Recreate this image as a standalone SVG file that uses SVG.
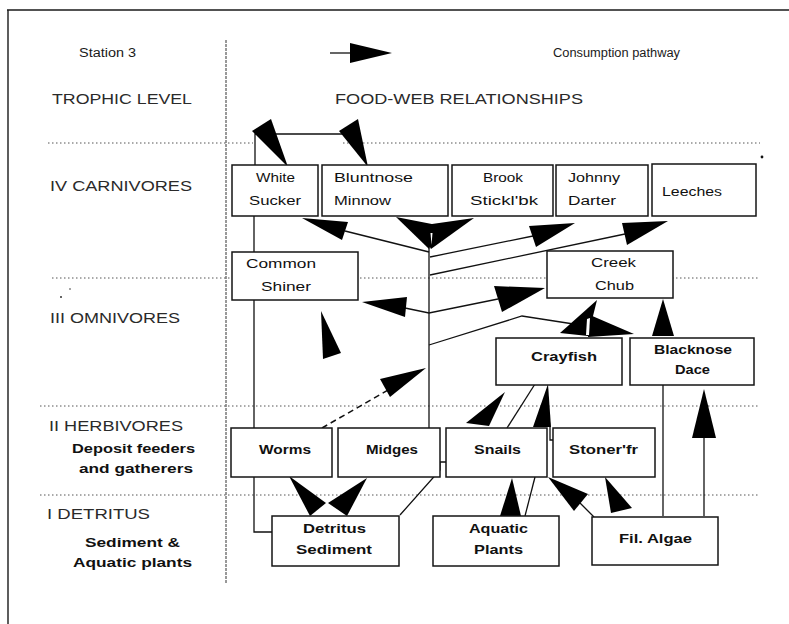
<svg xmlns="http://www.w3.org/2000/svg" width="789" height="624" viewBox="0 0 789 624">
  <style>
    .frame { fill: none; stroke: #1a1a1a; stroke-width: 1.4; }
    .divider { fill: none; stroke: #333; stroke-width: 1; stroke-dasharray: 3 1; }
    .level { fill: none; stroke: #555; stroke-width: 1; stroke-dasharray: 1.5 2.5; }
    .box { fill: #fff; stroke: #151515; stroke-width: 1.5; }
    .wire { fill: none; stroke: #111; stroke-width: 1.3; }
    .dash { fill: none; stroke: #111; stroke-width: 1.5; stroke-dasharray: 6 4; }
    .head { fill: #000; stroke: none; }
    .gap { fill: #fff; stroke: none; }
    .hd { font-family: "Liberation Sans", Arial, sans-serif; font-size: 15px; fill: #2a2a2a; }
    .sm { font-family: "Liberation Sans", Arial, sans-serif; font-size: 12px; fill: #1a1a1a; }
    .lb { font-family: "Liberation Sans", Arial, sans-serif; font-size: 12px; fill: #111; }
    .bl { font-family: "Liberation Sans", Arial, sans-serif; font-size: 12px; font-weight: bold; fill: #111; }
  </style>
  <rect width="789" height="624" fill="#fff"/>

  <!-- page frame and column divider -->
  <g id="frame">
    <path class="frame" d="M7,10 H789 M8,10 V624"/>
    <path class="divider" d="M226,40 V584"/>
    <circle cx="762" cy="157" r="1.4" fill="#111"/>
    <circle cx="61" cy="297" r="1" fill="#333"/>
    <circle cx="70" cy="289" r="0.8" fill="#333"/>
  </g>

  <!-- trophic level separators -->
  <g id="levels">
    <path class="level" d="M48,143 H253 M343,143 H760"/>
    <path class="level" d="M52,278 H760"/>
    <path class="level" d="M40,406 H760"/>
    <path class="level" d="M40,495 H760"/>
  </g>

  <!-- headings and level names -->
  <g id="labels">
    <text class="sm" x="79" y="57" textLength="57" lengthAdjust="spacingAndGlyphs">Station 3</text>
    <text class="sm" x="553" y="57" textLength="127" lengthAdjust="spacingAndGlyphs">Consumption pathway</text>
    <text class="hd" x="52" y="104" textLength="140" lengthAdjust="spacingAndGlyphs">TROPHIC LEVEL</text>
    <text class="hd" x="335" y="104" textLength="248" lengthAdjust="spacingAndGlyphs">FOOD-WEB RELATIONSHIPS</text>
    <text class="hd" x="50" y="191" textLength="142" lengthAdjust="spacingAndGlyphs">IV CARNIVORES</text>
    <text class="hd" x="50" y="323" textLength="130" lengthAdjust="spacingAndGlyphs">III OMNIVORES</text>
    <text class="hd" x="49" y="431" textLength="134" lengthAdjust="spacingAndGlyphs">II HERBIVORES</text>
    <text class="bl" x="72" y="453" textLength="123" lengthAdjust="spacingAndGlyphs">Deposit feeders</text>
    <text class="bl" x="79" y="473" textLength="114" lengthAdjust="spacingAndGlyphs">and gatherers</text>
    <text class="hd" x="47" y="519" textLength="103" lengthAdjust="spacingAndGlyphs">I DETRITUS</text>
    <text class="bl" x="85" y="547" textLength="95" lengthAdjust="spacingAndGlyphs">Sediment &amp;</text>
    <text class="bl" x="73" y="567" textLength="119" lengthAdjust="spacingAndGlyphs">Aquatic plants</text>
  </g>

  <!-- consumption pathways -->
  <g id="connectors">
    <!-- legend arrow -->
    <path class="wire" d="M330,53 H352"/>
    <polygon class="head" points="350,43 350,63 392,53"/>

    <!-- White Sucker / Bluntnose Minnow loop -->
    <path class="wire" d="M255,165 V134 H343"/>
    <polygon class="head" points="252,131 271,119 288,167"/>
    <polygon class="head" points="339,131 358,119 368,167"/>

    <!-- White Sucker down to detritus -->
    <path class="wire" d="M254,216 V532 H272"/>

    <!-- midges trunk and its branches -->
    <path class="wire" d="M429,248 V430"/>
    <path class="wire" d="M345,231 L429,252"/>
    <polygon class="head" points="302,218 348,222 342,240"/>
    <polygon class="head" points="396,217 442,226 429,249"/>
    <polygon class="head" points="474,218 418,226 431,249"/>
    <polygon class="gap" points="430.5,233 432.5,233 431.5,245"/>
    <path class="wire" d="M430,257 L533,236"/>
    <polygon class="head" points="575,223 529,226 536,247"/>
    <path class="wire" d="M430,275 L625,234"/>
    <polygon class="head" points="668,221 622,223 627,245"/>
    <path class="wire" d="M405,308 L429,313 L498,299"/>
    <polygon class="head" points="362,302 407,297 405,317"/>
    <polygon class="head" points="545,288 494,286 502,312"/>
    <path class="wire" d="M429,345 L522,316 L580,325"/>
    <polygon class="head" points="321,311 341,353 323,359"/>

    <!-- worms (dashed) -->
    <path class="dash" d="M322,428 L388,390"/>
    <polygon class="head" points="426,368 380,379 390,397"/>

    <!-- crayfish and blacknose dace to creek chub -->
    <polygon class="head" points="597,300 560,333 588,336"/>
    <polygon class="head" points="590,315 634,334 588,337"/>
    <polygon class="gap" points="587,319 590,318 589,335 586,335"/>
    <polygon class="head" points="663,299 652,336 674,336"/>

    <!-- snails / stoneflies to crayfish -->
    <path class="wire" d="M535,384 L507,428"/>
    <polygon class="head" points="505,392 466,423 489,426"/>
    <polygon class="head" points="548,384 533,427 551,427"/>
    <path class="wire" d="M550,427 V440 H553"/>

    <!-- detritus to worms and midges -->
    <polygon class="head" points="289,476 326,503 310,516"/>
    <polygon class="head" points="367,478 328,503 347,516"/>
    <path class="wire" d="M446,462 H440 V470 L400,515"/>

    <!-- plants and algae to grazers -->
    <path class="wire" d="M535,477 L525,516"/>
    <polygon class="head" points="512,478 500,516 521,516"/>
    <path class="wire" d="M580,503 L594,517"/>
    <polygon class="head" points="548,477 588,494 574,511"/>
    <polygon class="head" points="605,477 611,513 632,508"/>
    <path class="wire" d="M663,384 V516"/>
    <path class="wire" d="M704,438 V516"/>
    <polygon class="head" points="704,389 692,438 716,438"/>
  </g>

  <!-- IV carnivores -->
  <g id="white-sucker">
    <rect class="box" x="232" y="165" width="86" height="51"/>
    <text class="lb" x="256" y="182" textLength="39" lengthAdjust="spacingAndGlyphs">White</text>
    <text class="lb" x="249" y="205" textLength="52" lengthAdjust="spacingAndGlyphs">Sucker</text>
  </g>
  <g id="bluntnose-minnow">
    <rect class="box" x="322" y="165" width="126" height="51"/>
    <text class="lb" x="334" y="182" textLength="79" lengthAdjust="spacingAndGlyphs">Bluntnose</text>
    <text class="lb" x="334" y="205" textLength="57" lengthAdjust="spacingAndGlyphs">Minnow</text>
  </g>
  <g id="brook-stickleback">
    <rect class="box" x="452" y="165" width="101" height="51"/>
    <text class="lb" x="483" y="182" textLength="40" lengthAdjust="spacingAndGlyphs">Brook</text>
    <text class="lb" x="470" y="205" textLength="68" lengthAdjust="spacingAndGlyphs">Stickl'bk</text>
  </g>
  <g id="johnny-darter">
    <rect class="box" x="556" y="165" width="92" height="51"/>
    <text class="lb" x="568" y="182" textLength="52" lengthAdjust="spacingAndGlyphs">Johnny</text>
    <text class="lb" x="568" y="205" textLength="48" lengthAdjust="spacingAndGlyphs">Darter</text>
  </g>
  <g id="leeches">
    <rect class="box" x="652" y="164" width="104" height="52"/>
    <text class="lb" x="662" y="196" textLength="60" lengthAdjust="spacingAndGlyphs">Leeches</text>
  </g>

  <!-- III omnivores -->
  <g id="common-shiner">
    <rect class="box" x="232" y="252" width="126" height="48"/>
    <text class="lb" x="246" y="268" textLength="70" lengthAdjust="spacingAndGlyphs">Common</text>
    <text class="lb" x="261" y="291" textLength="50" lengthAdjust="spacingAndGlyphs">Shiner</text>
  </g>
  <g id="creek-chub">
    <rect class="box" x="547" y="251" width="126" height="47"/>
    <text class="lb" x="591" y="267" textLength="45" lengthAdjust="spacingAndGlyphs">Creek</text>
    <text class="lb" x="595" y="290" textLength="39" lengthAdjust="spacingAndGlyphs">Chub</text>
  </g>
  <g id="crayfish">
    <rect class="box" x="496" y="338" width="126" height="47"/>
    <text class="bl" x="531" y="361" textLength="66" lengthAdjust="spacingAndGlyphs">Crayfish</text>
  </g>
  <g id="blacknose-dace">
    <rect class="box" x="630" y="338" width="124" height="47"/>
    <text class="bl" x="654" y="354" textLength="78" lengthAdjust="spacingAndGlyphs">Blacknose</text>
    <text class="bl" x="675" y="374" textLength="35" lengthAdjust="spacingAndGlyphs">Dace</text>
  </g>

  <!-- II herbivores -->
  <g id="worms">
    <rect class="box" x="231" y="428" width="101" height="49"/>
    <text class="bl" x="259" y="454" textLength="52" lengthAdjust="spacingAndGlyphs">Worms</text>
  </g>
  <g id="midges">
    <rect class="box" x="338" y="428" width="102" height="49"/>
    <text class="bl" x="366" y="454" textLength="52" lengthAdjust="spacingAndGlyphs">Midges</text>
  </g>
  <g id="snails">
    <rect class="box" x="446" y="428" width="101" height="49"/>
    <text class="bl" x="474" y="454" textLength="47" lengthAdjust="spacingAndGlyphs">Snails</text>
  </g>
  <g id="stoneflies">
    <rect class="box" x="553" y="428" width="102" height="49"/>
    <text class="bl" x="569" y="454" textLength="69" lengthAdjust="spacingAndGlyphs">Stoner'fr</text>
  </g>

  <!-- I detritus -->
  <g id="detritus-sediment">
    <rect class="box" x="272" y="516" width="127" height="50"/>
    <text class="bl" x="303" y="533" textLength="63" lengthAdjust="spacingAndGlyphs">Detritus</text>
    <text class="bl" x="296" y="554" textLength="76" lengthAdjust="spacingAndGlyphs">Sediment</text>
  </g>
  <g id="aquatic-plants">
    <rect class="box" x="433" y="516" width="126" height="50"/>
    <text class="bl" x="469" y="533" textLength="59" lengthAdjust="spacingAndGlyphs">Aquatic</text>
    <text class="bl" x="474" y="554" textLength="49" lengthAdjust="spacingAndGlyphs">Plants</text>
  </g>
  <g id="fil-algae">
    <rect class="box" x="592" y="517" width="126" height="48"/>
    <text class="bl" x="619" y="543" textLength="73" lengthAdjust="spacingAndGlyphs">Fil. Algae</text>
  </g>
</svg>
